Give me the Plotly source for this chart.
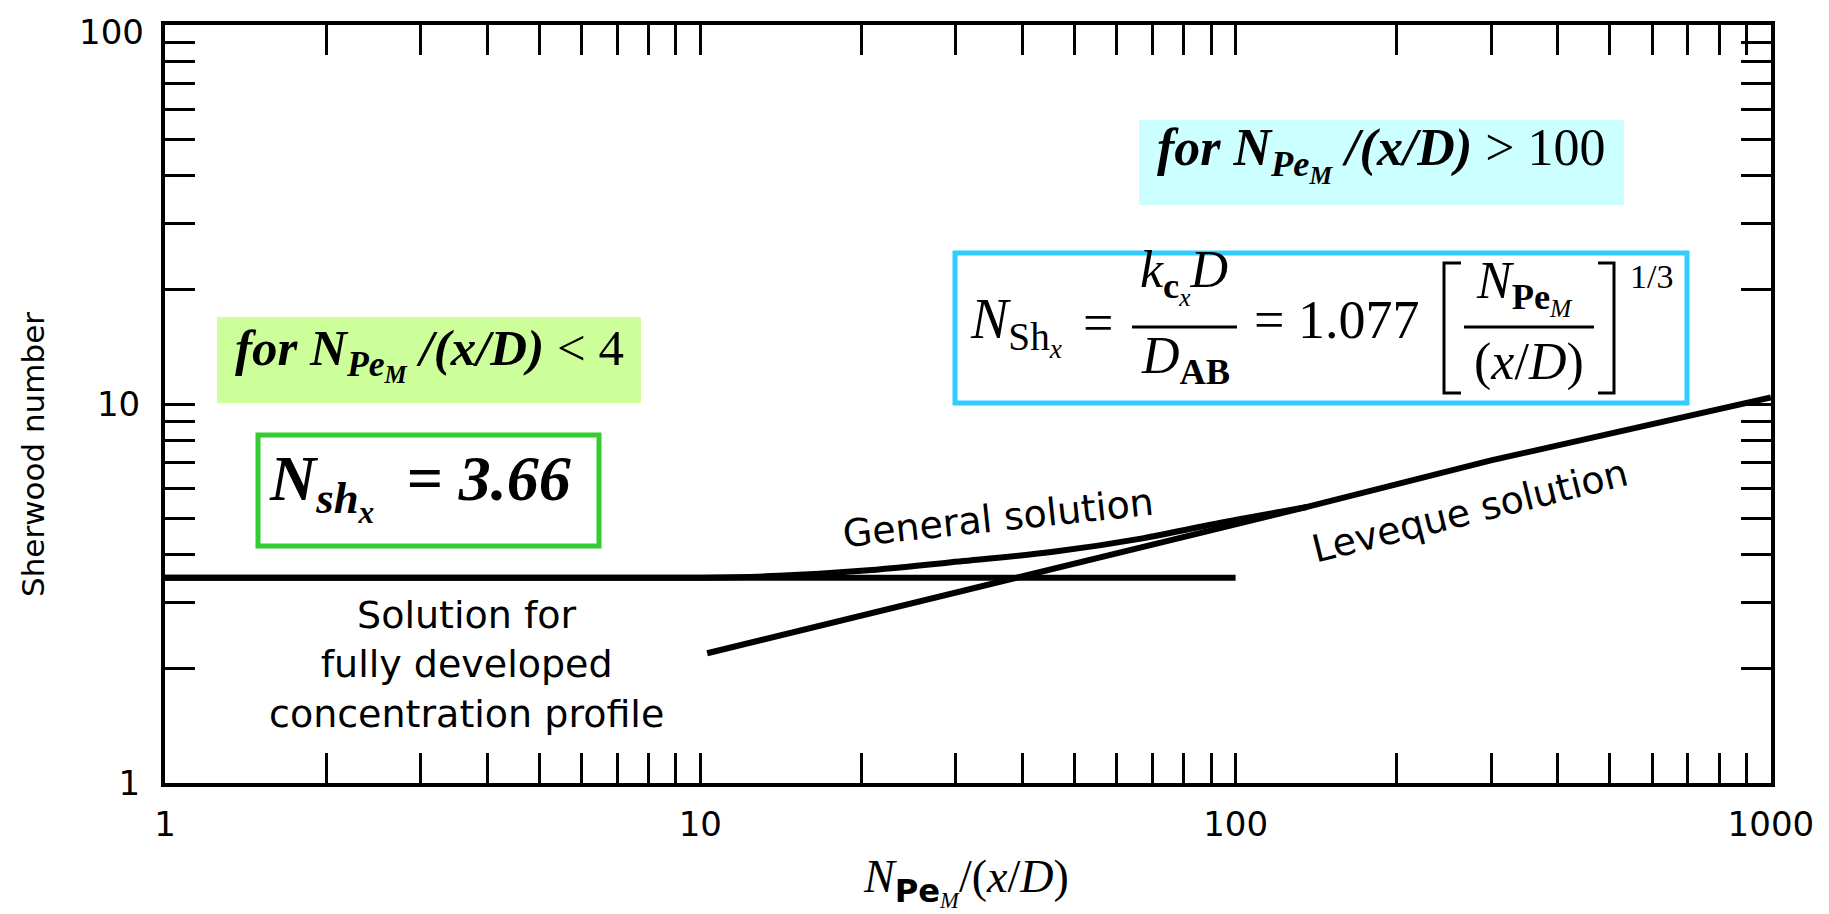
import plotly.graph_objects as go

# ---------------- data ----------------
fd_x = [1, 100]                      # fully developed profile
fd_y = [3.48, 3.48]
gen_x = [1, 10, 14, 20, 31, 46, 67, 87, 136]          # general solution
gen_y = [3.48, 3.48, 3.52, 3.63, 3.85, 4.08, 4.42, 4.76, 5.35]
lev_x = [10.3, 38, 136, 300, 1000]                     # Leveque solution
lev_y = [2.2, 3.45, 5.35, 7.1, 10.4]

x_major = [1, 10, 100, 1000]
x_major_text = ["1", "10", "100", "1000"]
y_major = [1, 10, 100]
y_major_text = ["1", "10", "100"]
minor_mult = [2, 3, 4, 5, 6, 7, 8, 9]

x_minor = [d * m for d in x_major[:-1] for m in minor_mult]
y_minor = [d * m for d in y_major[:-1] for m in minor_mult]

# ---------------- figure ----------------
W, H = 1829, 914
L, R, T, B = 157, 1763, 17, 775   # plot area in pixels


def px(x):
    return (x - L) / (R - L)


def py(y):
    return (B - y) / (B - T)


SANS = "DejaVu Sans"
SERIF = "Liberation Serif"

fig = go.Figure()
line_style = dict(color="black", width=6)
fig.add_trace(go.Scatter(x=fd_x, y=fd_y, mode="lines", line=line_style,
                         name="Solution for fully developed concentration profile"))
fig.add_trace(go.Scatter(x=gen_x, y=gen_y, mode="lines", line=dict(color="black", width=6, shape="spline"),
                         name="General solution"))
fig.add_trace(go.Scatter(x=lev_x, y=lev_y, mode="lines", line=line_style, name="Leveque solution"))

axis_common = dict(
    type="log", ticks="inside", ticklen=30, tickwidth=3, tickcolor="black",
    showline=True, linewidth=4, linecolor="black", mirror="allticks",
    showgrid=False, zeroline=False,
    tickfont=dict(family=SANS, size=34, color="black"),
)
minor_common = dict(ticks="inside", ticklen=30, tickwidth=3, tickcolor="black", showgrid=False)
fig.update_xaxes(range=[0, 3.0002], tickmode="array", tickvals=x_major, ticktext=x_major_text,
                 ticklabelstandoff=8, minor=dict(tickmode="array", tickvals=x_minor, **minor_common),
                 **axis_common)
# the top label (100) is placed as an annotation below, since plotly drops it at the frame edge
fig.update_yaxes(range=[0, 2], tickmode="array", tickvals=y_major[:-1], ticktext=y_major_text[:-1],
                 ticklabelstandoff=14, minor=dict(tickmode="array", tickvals=y_minor, **minor_common),
                 **axis_common)

shapes = []
# background labels / boxes
shapes.append(dict(type="rect", xref="paper", yref="paper", x0=px(209), x1=px(633), y0=py(395), y1=py(309),
                   fillcolor="#ccff99", line=dict(width=0), layer="below"))
shapes.append(dict(type="rect", xref="paper", yref="paper", x0=px(250), x1=px(591), y0=py(538), y1=py(427),
                   fillcolor="rgba(0,0,0,0)", line=dict(color="#33cc33", width=5)))
shapes.append(dict(type="rect", xref="paper", yref="paper", x0=px(1131), x1=px(1616), y0=py(197), y1=py(112),
                   fillcolor="#ccffff", line=dict(width=0), layer="below"))
shapes.append(dict(type="rect", xref="paper", yref="paper", x0=px(947), x1=px(1679), y0=py(395), y1=py(245),
                   fillcolor="rgba(0,0,0,0)", line=dict(color="#33ccff", width=5)))
# fraction bars
shapes.append(dict(type="line", xref="paper", yref="paper", x0=px(1124), x1=px(1229), y0=py(319), y1=py(319),
                   line=dict(color="black", width=3)))
shapes.append(dict(type="line", xref="paper", yref="paper", x0=px(1456), x1=px(1586), y0=py(319), y1=py(319),
                   line=dict(color="black", width=3)))


# brackets
def bracket(xv, xs, y0, y1):
    return dict(type="path", xref="paper", yref="paper",
                path=f"M {px(xs)} {py(y0)} L {px(xv)} {py(y0)} L {px(xv)} {py(y1)} L {px(xs)} {py(y1)}",
                line=dict(color="black", width=3))


shapes.append(bracket(1436, 1453, 255, 385))
shapes.append(bracket(1606, 1590, 255, 385))
fig.update_layout(shapes=shapes)

ann = []


def A(text, x, y, size, family=SERIF, xanchor="center", yanchor="middle", angle=0):
    ann.append(dict(text=text, showarrow=False, font=dict(family=family, size=size, color="black"),
                    xanchor=xanchor, yanchor=yanchor, textangle=angle,
                    xref="paper", yref="paper", x=px(x), y=py(y)))


# top y tick label
A(y_major_text[-1], 138, 24, 34, family=SANS, xanchor="right")

# axis titles
A("Sherwood number", 25, 447, 31, family=SANS, angle=-90)
A(f"<i>N</i><sub><span style='font-family:{SANS};font-weight:bold'>Pe</span><sub><i>M</i></sub></sub>/(<i>x</i>/<i>D</i>)",
  958, 874, 46)

# curve labels
A("General solution", 990, 510, 38, family=SANS, angle=-6)
A("Leveque solution", 1462, 503, 38, family=SANS, angle=-14)
A("Solution for<br>fully developed<br>concentration profile", 458, 656, 38, family=SANS)

# left condition
A("<b><i>for N</i></b><sub><b><i>Pe</i></b><sub><b><i>M</i></b></sub></sub><b><i> /(x/D)</i></b> &lt; 4",
  421, 346, 51)
A("<b><i>N</i></b><sub><b><i>sh</i></b><sub><b><i>x</i></b></sub></sub><b><i>  = 3.66</i></b>",
  412, 478, 64)

# right condition
A("<b><i>for N</i></b><sub><b><i>Pe</i></b><sub><b><i>M</i></b></sub></sub><b><i> /(x/D)</i></b> &gt; 100",
  1373, 146, 52)

# Leveque formula
A("<i>N</i><sub>Sh<sub><i>x</i></sub></sub>", 960, 318, 56, xanchor="left")
A("=", 1090, 315, 54)
A("<i>k</i><sub><b>c</b><sub><i>x</i></sub></sub><i>D</i>", 1176, 268, 52)
A("<i>D</i><sub><b>AB</b></sub>", 1177, 352, 52)
A("= 1.077", 1328, 312, 54)
A("<i>N</i><sub><b>Pe</b><sub><i>M</i></sub></sub>", 1516, 279, 52)
A("(<i>x</i>/<i>D</i>)", 1521, 354, 52)
A("1/3", 1643, 268, 34)

fig.update_layout(
    width=W, height=H,
    margin=dict(l=L, r=W - R, t=T, b=H - B),
    plot_bgcolor="white", paper_bgcolor="white",
    showlegend=False,
    annotations=ann,
)

fig.write_html("out.html")
